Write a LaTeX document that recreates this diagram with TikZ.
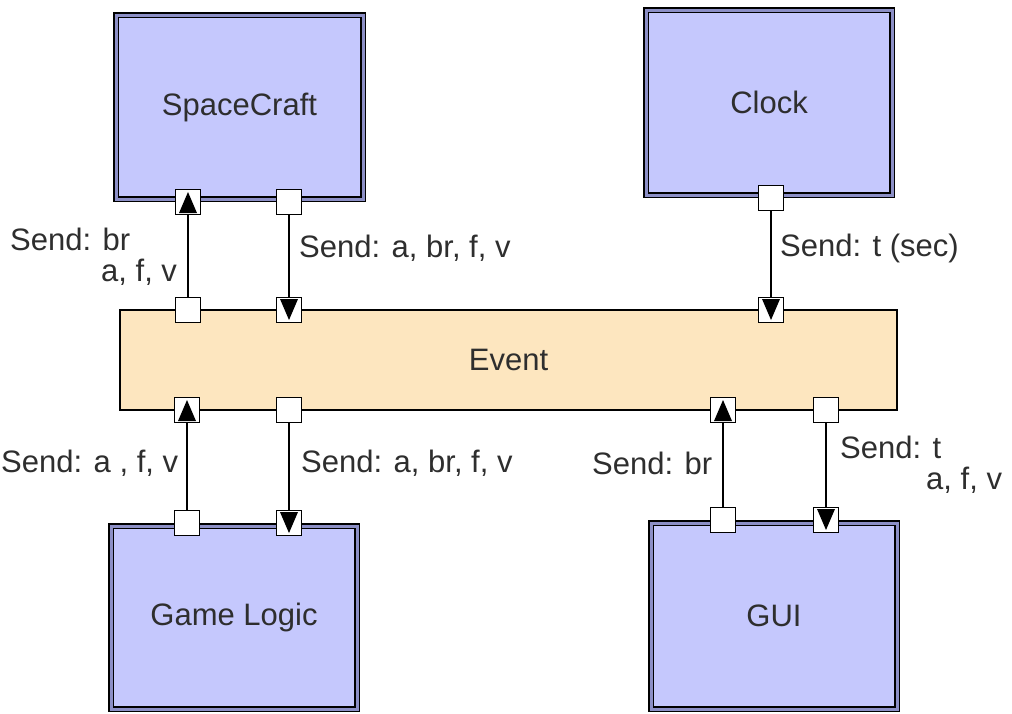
\documentclass[tikz,border=0pt]{standalone}
\usepackage{fontspec}
\setmainfont{Liberation Sans}
\definecolor{boxfill}{HTML}{C5C8FD}
\definecolor{boxband}{HTML}{8C8FC6}
\definecolor{evfill}{HTML}{FDE6BF}
\definecolor{txt}{HTML}{2E2E2E}
\begin{document}
\begin{tikzpicture}[x=1pt,y=-1pt,
  every node/.style={font=\fontsize{31}{31}\selectfont, text=txt},
  compbox/.style={draw=black, line width=1.5pt, double=boxband, double distance=3pt,
    fill=boxfill, minimum width=#1, inner sep=0pt},
  eventbox/.style={draw=black, line width=2pt, fill=evfill, inner sep=0pt},
  port/.style={draw=black, line width=1.5pt, fill=white, minimum size=25pt, inner sep=0pt},
  portup/.style={port, path picture={\fill[black]
      ([xshift=-9pt,yshift=-11pt]path picture bounding box.center) --
      ([xshift=9pt,yshift=-11pt]path picture bounding box.center) --
      ([yshift=10pt]path picture bounding box.center) -- cycle;}},
  portdown/.style={port, path picture={\fill[black]
      ([xshift=-9pt,yshift=11pt]path picture bounding box.center) --
      ([xshift=9pt,yshift=11pt]path picture bounding box.center) --
      ([yshift=-10pt]path picture bounding box.center) -- cycle;}},
  conn/.style={draw=black, line width=2pt},
  lbl/.style={anchor=west, inner sep=0pt, align=left}
]
\useasboundingbox (0,0) rectangle (1012,713);
\fill[white] (0,0) rectangle (1012,713);

% components
\node[compbox=247pt, minimum height=184pt] (sc) at (239.5,107) {SpaceCraft};
\node[compbox=246pt, minimum height=185pt] (clk) at (769,102.5) {Clock};
\node[compbox=246pt, minimum height=183pt] (gl) at (234,617.5) {Game Logic};
\node[compbox=246pt, minimum height=186pt] (gui) at (774,616) {GUI};
\node[eventbox, minimum width=777pt, minimum height=100pt] (ev) at (508.5,360) {Event};

% ports
\node[portup]   (pSC1) at (188,202) {};
\node[port]     (pSC2) at (289,202) {};
\node[port]     (pC)   at (771,198) {};
\node[port]     (pE1)  at (188,310) {};
\node[portdown] (pE2)  at (289,310) {};
\node[portdown] (pE3)  at (771,310) {};
\node[portup]   (pE4)  at (187,410) {};
\node[port]     (pE5)  at (289,410) {};
\node[portup]   (pE6)  at (723,410) {};
\node[port]     (pE7)  at (826,410) {};
\node[port]     (pG1)  at (187,523) {};
\node[portdown] (pG2)  at (289,523) {};
\node[port]     (pU1)  at (723,520) {};
\node[portdown] (pU2)  at (826,520) {};

% connectors
\draw[conn] (pE1) -- (pSC1);
\draw[conn] (pSC2) -- (pE2);
\draw[conn] (pC) -- (pE3);
\draw[conn] (pG1) -- (pE4);
\draw[conn] (pE5) -- (pG2);
\draw[conn] (pU1) -- (pE6);
\draw[conn] (pE7) -- (pU2);

% labels
\node[lbl] (l1) at (10,256.5) {Send: br\\\hspace*{91pt}a, f, v};
\node[lbl] (l2) at (299,248) {Send: a, br, f, v};
\node[lbl] (l3) at (780,248) {Send: t (sec)};
\node[lbl] (l4) at (1,463) {Send: a , f, v};
\node[lbl] (l5) at (301,463) {Send: a, br, f, v};
\node[lbl] (l6) at (592,463) {Send: br};
\node[lbl] (l7) at (840,464.5) {Send: t\\\hspace*{86pt}a, f, v};
\end{tikzpicture}
\end{document}
